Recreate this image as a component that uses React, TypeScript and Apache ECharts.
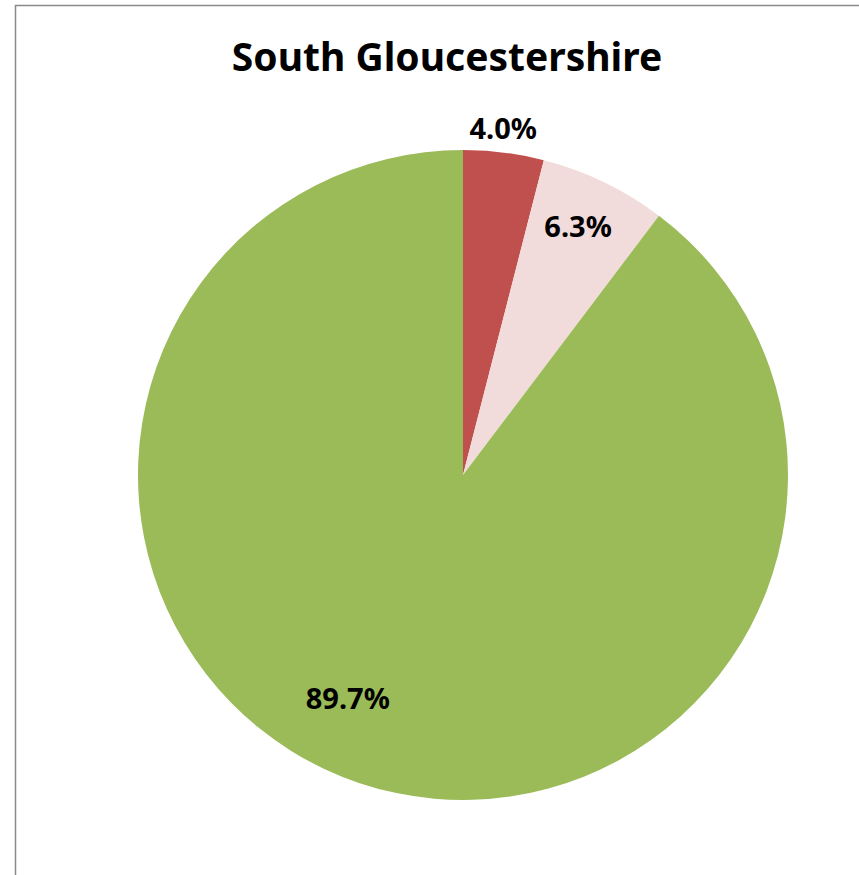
import React, { useEffect, useRef } from "react";
import * as echarts from "echarts";

const categories = ["Category A", "Category B", "Category C"];
const values = [4.0, 6.3, 89.7];
const labels = ["4.0%", "6.3%", "89.7%"];
const colors = ["#C0504D", "#F2DCDB", "#9BBB59"];

const CX = 463;
const CY = 475;
const R = 325;
// label placement: [radius fraction, angle offset in degrees from the slice middle]
const labelPlace = [
  [1.077, -0.6],
  [0.846, -1.0],
  [0.772, 8.8],
];

export default function App() {
  const ref = useRef<HTMLDivElement>(null);
  useEffect(() => {
    document.body.style.margin = "0";
    const chart = echarts.init(ref.current!, null, { renderer: "svg" });
    const total = values.reduce((a, b) => a + b, 0);
    const mids: number[] = [];
    let acc = 0;
    values.forEach((v) => {
      mids.push(((acc + v / 2) / total) * 360);
      acc += v;
    });
    chart.setOption({
      animation: false,
      backgroundColor: "#ffffff",
      title: {
        text: "South Gloucestershire",
        left: 442,
        top: 31,
        textAlign: "center",
        textStyle: {
          fontFamily: "Noto Sans",
          fontWeight: "bold",
          fontSize: 39,
          color: "#000000",
        },
      },
      graphic: [
        {
          type: "rect",
          shape: { x: 15.5, y: 5.5, width: 900, height: 900 },
          style: { fill: "none", stroke: "#8a8a8a", lineWidth: 1.5 },
          silent: true,
        },
      ],
      series: [
        {
          type: "pie",
          center: [CX, CY],
          radius: R,
          startAngle: 90,
          clockwise: true,
          data: categories.map((c, i) => ({
            name: c,
            value: values[i],
            itemStyle: { color: colors[i] },
          })),
          label: {
            show: true,
            position: "inside",
            formatter: (p: any) => labels[p.dataIndex],
            fontFamily: "Noto Sans",
            fontWeight: "bold",
            fontSize: 29,
            color: "#000000",
          },
          labelLine: { show: false },
          labelLayout: (p: any) => {
            const [f, off] = labelPlace[p.dataIndex];
            const a = ((mids[p.dataIndex] + off) * Math.PI) / 180;
            return {
              x: CX + Math.sin(a) * R * f,
              y: CY - Math.cos(a) * R * f,
              align: "center",
              verticalAlign: "middle",
            };
          },
          emphasis: { disabled: true },
        },
      ],
    });
    return () => chart.dispose();
  }, []);
  return <div ref={ref} style={{ width: 859, height: 875 }} />;
}
